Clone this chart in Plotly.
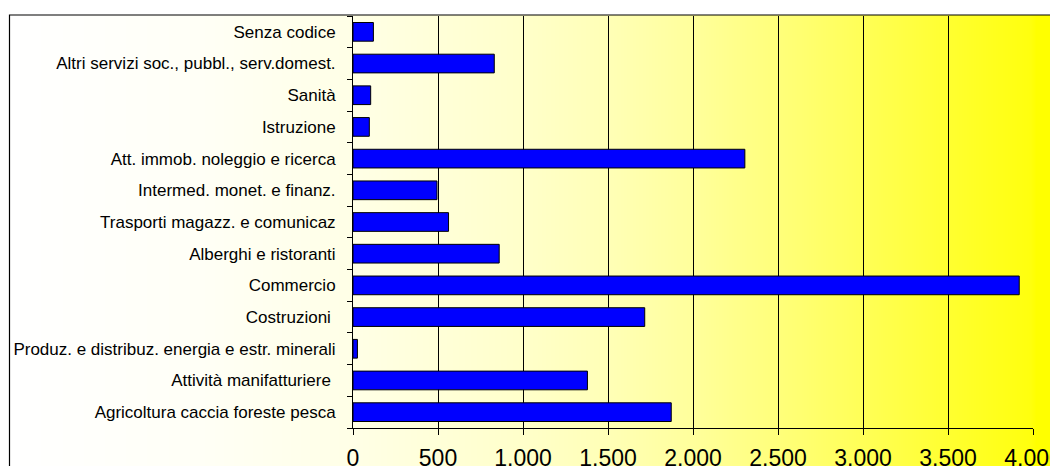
import base64, struct, zlib
import plotly.graph_objects as go

# ---- data ----
categories = [
    "Agricoltura caccia foreste pesca",
    "Attività manifatturiere\u00a0",
    "Produz. e distribuz. energia e estr. minerali",
    "Costruzioni\u00a0",
    "Commercio",
    "Alberghi e ristoranti",
    "Trasporti magazz. e comunicaz",
    "Intermed. monet. e finanz.",
    "Att. immob. noleggio e ricerca",
    "Istruzione",
    "Sanità",
    "Altri servizi soc., pubbl., serv.domest.",
    "Senza codice",
]
values = [1872, 1379, 26, 1716, 3919, 860, 562, 494, 2305, 96, 104, 831, 120]
x_ticks = [0, 500, 1000, 1500, 2000, 2500, 3000, 3500, 4000]

# ---- figure geometry (pixels, figure coords; page adds 8px body margin) ----
W, H = 1058, 466
ML, MR, MT, MB = 345, 33, 8, 46
PW, PH = W - ML - MR, H - MT - MB


def px_to_paper_x(px):
    return (px - ML) / PW


def px_to_paper_y(py):
    return (H - MB - py) / PH


# ---- background gradient (white -> yellow) as a small PNG ----
stops = [(1, 255), (192, 246), (345, 230), (514, 202), (601, 182), (686, 155),
         (771, 122), (856, 86), (940, 48), (1022, 14), (1028, 0), (1100, 0)]
gx0, gx1 = 1, 1100
row = []
for px in range(gx0, gx1):
    bl = 0
    for (a, va), (b, vb) in zip(stops[:-1], stops[1:]):
        if a <= px <= b:
            t = (px - a) / (b - a)
            bl = int(round(va + (vb - va) * t))
            break
    row.append((255, 255, bl))


def make_png(row, h=2):
    w = len(row)
    raw = b"".join(b"\x00" + bytes(c for p in row for c in p) for _ in range(h))

    def chunk(t, d):
        return struct.pack(">I", len(d)) + t + d + struct.pack(">I", zlib.crc32(t + d) & 0xffffffff)

    ihdr = struct.pack(">IIBBBBB", w, h, 8, 2, 0, 0, 0)
    return b"\x89PNG\r\n\x1a\n" + chunk(b"IHDR", ihdr) + chunk(b"IDAT", zlib.compress(raw)) + chunk(b"IEND", b"")


png_uri = "data:image/png;base64," + base64.b64encode(make_png(row)).decode()

fig = go.Figure()
fig.add_trace(go.Bar(
    x=values, y=categories, orientation="h",
    marker=dict(color="#0000FF", line=dict(color="#000000", width=1)),
    width=0.59,
    hoverinfo="x+y",
))

border_top = 7
fig.add_layout_image(dict(
    source=png_uri, xref="paper", yref="paper",
    x=px_to_paper_x(gx0), y=px_to_paper_y(border_top),
    sizex=(gx1 - gx0) / PW, sizey=(H + 40 - border_top) / PH,
    sizing="stretch", xanchor="left", yanchor="top", layer="below",
))
fig.add_shape(type="rect", xref="paper", yref="paper",
              x0=px_to_paper_x(1.5), x1=px_to_paper_x(1100),
              y0=px_to_paper_y(520), y1=px_to_paper_y(border_top),
              line=dict(color="#000000", width=1.2), fillcolor="rgba(0,0,0,0)", layer="above")

fig.update_layout(
    width=W, height=H,
    margin=dict(l=ML, r=MR, t=MT, b=MB, pad=0, autoexpand=False),
    paper_bgcolor="#FFFFFF", plot_bgcolor="rgba(0,0,0,0)",
    separators=",.",
    showlegend=False,
    font=dict(family="Liberation Sans, Arial, sans-serif", color="#000000"),
)
fig.update_xaxes(
    range=[0, 4000], tickvals=x_ticks, tickformat=",d",
    showgrid=True, gridcolor="#000000", gridwidth=1,
    showline=True, linecolor="#000000", linewidth=1,
    ticks="outside", ticklen=6, tickcolor="#000000", tickwidth=1,
    tickfont=dict(size=23, family="Liberation Sans, Arial, sans-serif", color="#000000"),
    ticklabelstandoff=3, ticklabeloverflow="allow",
    automargin=False,
    zeroline=False, fixedrange=True,
)
fig.update_yaxes(
    type="category", range=[-0.5, len(categories) - 0.5],
    showgrid=False, showline=True, linecolor="#000000", linewidth=1,
    ticks="outside", ticklen=5, tickcolor="#000000", tickwidth=1,
    tickson="boundaries",
    tickfont=dict(size=17, family="Liberation Sans, Arial, sans-serif", color="#000000"),
    ticklabelstandoff=13,
    automargin=False,
    zeroline=False, fixedrange=True,
)

fig.write_html("out.html", config={"displayModeBar": False})
